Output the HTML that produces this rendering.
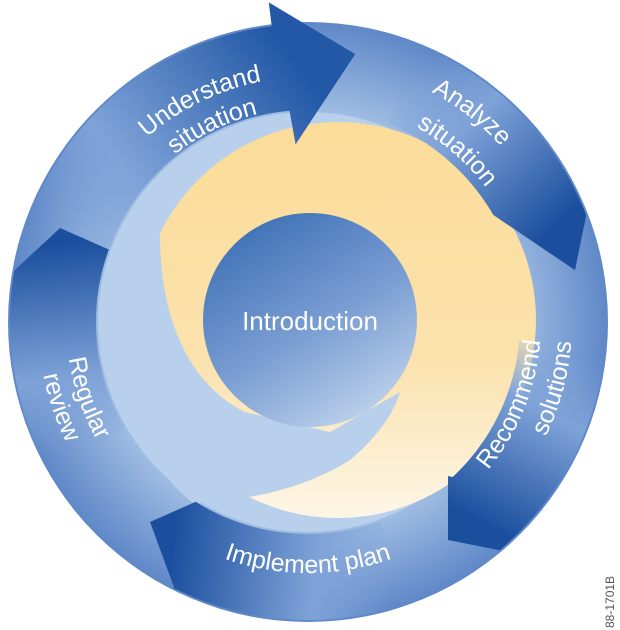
<!DOCTYPE html>
<html><head><meta charset="utf-8"><style>
html,body{margin:0;padding:0;background:#fff;width:620px;height:630px;overflow:hidden}
svg{display:block}
text{font-family:"Liberation Sans",sans-serif;fill:#fff}
</style></head><body>
<svg id="s" width="620" height="630" viewBox="0 0 620 630" xmlns="http://www.w3.org/2000/svg">
<defs>
<radialGradient id="ring" cx="308" cy="322" r="300" gradientUnits="userSpaceOnUse">
<stop offset="0.68" stop-color="#a3bfe4"/><stop offset="1" stop-color="#5f88c8"/></radialGradient>
<linearGradient id="yel" x1="0" y1="0" x2="0" y2="1">
<stop offset="0" stop-color="#fbdc98"/><stop offset="0.6" stop-color="#fbe2ad"/><stop offset="1" stop-color="#fdf6e6"/></linearGradient>
<linearGradient id="ctr" x1="0.2" y1="0" x2="0.8" y2="1">
<stop offset="0" stop-color="#3a6fb5"/><stop offset="0.55" stop-color="#7c9fd3"/><stop offset="1" stop-color="#c3d6ee"/></linearGradient>
</defs>
<circle cx="308" cy="322" r="300" fill="url(#ring)"/>
<circle cx="308" cy="322" r="210" fill="#b9d0ec"/>
<circle cx="338" cy="320" r="198" fill="url(#yel)"/>
<path d="M160,235 C160,320 190,385 245,412 L330,432 L400,392 C395,410 380,435 350,460 C310,485 260,500 193,503 C150,470 120,400 120,330 C120,290 130,250 160,235 Z" fill="#b9d0ec"/>
<g id="arrows"></g>
<circle cx="310" cy="320" r="107" fill="url(#ctr)"/>
<g id="paths"></g>
<text font-size="25"><textPath href="#pU" startOffset="50%" text-anchor="middle">Understand</textPath></text>
<text font-size="25"><textPath href="#pU2" startOffset="50%" text-anchor="middle">situation</textPath></text>
<text font-size="25"><textPath href="#pA" startOffset="50%" text-anchor="middle">Analyze</textPath></text>
<text font-size="25"><textPath href="#pA2" startOffset="50%" text-anchor="middle">situation</textPath></text>
<text font-size="25"><textPath href="#pR" startOffset="50%" text-anchor="middle">Recommend</textPath></text>
<text font-size="25"><textPath href="#pR2" startOffset="50%" text-anchor="middle">solutions</textPath></text>
<text font-size="25"><textPath href="#pI" startOffset="50%" text-anchor="middle">Implement plan</textPath></text>
<text font-size="25"><textPath href="#pG" startOffset="50%" text-anchor="middle">Regular</textPath></text>
<text font-size="25"><textPath href="#pG2" startOffset="50%" text-anchor="middle">review</textPath></text>
<text x="310" y="330" font-size="26" text-anchor="middle">Introduction</text>
<text x="0" y="0" font-size="12" style="fill:#555" transform="translate(614,628) rotate(-90)">88-1701B</text>
</svg>
<script>
var NS="http://www.w3.org/2000/svg",cx=308,cy=322;
function P(a,r){var t=a*Math.PI/180;return [cx+r*Math.cos(t),cy+r*Math.sin(t)];}
function arc(a0,a1,r){var o=[],n=30;for(var i=0;i<=n;i++)o.push(P(a0+(a1-a0)*i/n,r));return o;}
var defs=document.querySelector("defs"),g=document.getElementById("arrows"),gp=document.getElementById("paths");
var k=0;
function arrow(pts,aL,aD,light,dark){
 var id="g"+(k++),lg=document.createElementNS(NS,"linearGradient");
 var p0=P(aL,255),p1=P(aD,255);
 lg.setAttribute("id",id);lg.setAttribute("gradientUnits","userSpaceOnUse");
 lg.setAttribute("x1",p0[0]);lg.setAttribute("y1",p0[1]);lg.setAttribute("x2",p1[0]);lg.setAttribute("y2",p1[1]);
 lg.innerHTML='<stop offset="0" stop-color="'+light+'" stop-opacity="0"/><stop offset="0.35" stop-color="'+light+'"/><stop offset="1" stop-color="'+dark+'"/>';
 defs.appendChild(lg);
 var pa=document.createElementNS(NS,"path");
 pa.setAttribute("d","M"+pts.map(function(p){return p[0].toFixed(1)+","+p[1].toFixed(1)}).join(" L")+" Z");
 pa.setAttribute("fill","url(#"+id+")");g.appendChild(pa);
}
arrow([].concat(arc(195,263,298),[P(263,322),P(280,272),P(266,178)],arc(265,195,212)),195,268,"#7fa3d8","#2258a6");
arrow([].concat(arc(292,339,298),[P(349,272)],arc(330,292,214)),292,340,"#7fa3d8","#1b4f9e");
arrow([].concat(arc(5,50,298),[[448,540],[448,476]],arc(47,5,212)),5,50,"#7fa3d8","#1b4f9e");
arrow([[150,522],[175,590]].concat(arc(117,70,298),arc(70,122,212)),70,122,"#7fa3d8","#1b4f9e");
arrow([[60,228]].concat(arc(190,150,298),arc(150,200,212)),150,198,"#7fa3d8","#1b4f9e");
function tp(id,ac,r,span,cw){
 var a0=cw?ac-span:ac+span,a1=cw?ac+span:ac-span,p0=P(a0,r),p1=P(a1,r);
 var pa=document.createElementNS(NS,"path");pa.setAttribute("id",id);pa.setAttribute("fill","none");
 pa.setAttribute("d","M"+p0[0]+","+p0[1]+" A"+r+","+r+" 0 0 "+(cw?1:0)+" "+p1[0]+","+p1[1]);
 gp.appendChild(pa);
}
tp("pU",244,245,40,true);tp("pU2",244,214,40,true);
tp("pA",308,261,35,true);tp("pA2",311,223,40,true);
tp("pR",22,233,40,false);tp("pR2",15,264,40,false);
tp("pI",90,251,45,false);
tp("pG",161,242,35,false);tp("pG2",161,270,35,false);
</script>
</body></html>
